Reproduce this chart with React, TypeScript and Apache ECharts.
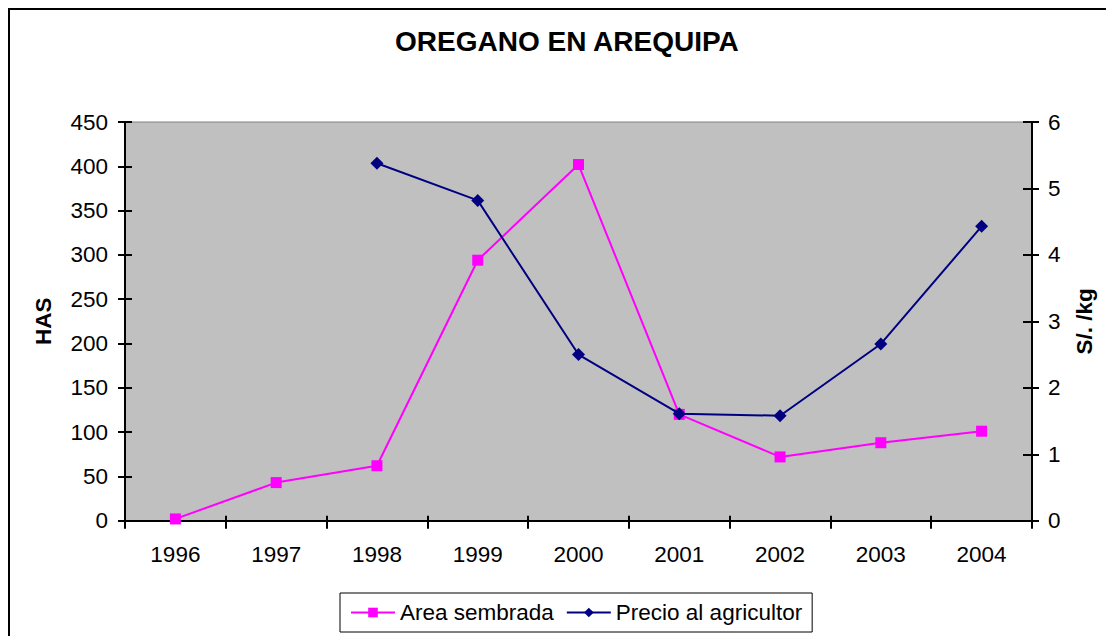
import React, { useEffect, useRef } from "react";
import * as echarts from "echarts";

const years = ["1996", "1997", "1998", "1999", "2000", "2001", "2002", "2003", "2004"];
const areaSembrada = [2, 43, 62, 294, 402, 120, 72, 88, 101];
const precioAgricultor = [null, null, 5.38, 4.82, 2.5, 1.61, 1.58, 2.66, 4.43];

const FONT = "'Liberation Sans', Arial, sans-serif";
const FS = 22.5;

export default function App() {
  const ref = useRef<HTMLDivElement>(null);
  useEffect(() => {
    if (!ref.current) return;
    const chart = echarts.init(ref.current, undefined, { renderer: "svg" });
    const tickStyle = { color: "#000", width: 2 };
    chart.setOption({
      animation: false,
      backgroundColor: "#fff",
      textStyle: { fontFamily: FONT },
      title: {
        text: "OREGANO EN AREQUIPA",
        left: 387,
        top: 19,
        padding: 0,
        textStyle: { fontFamily: FONT, fontSize: 28, fontWeight: "bold", color: "#000" },
      },
      graphic: [
        {
          type: "rect",
          shape: { x: 1, y: 1, width: 1300, height: 900 },
          style: { fill: "none", stroke: "#000", lineWidth: 2 },
          silent: true,
          z: 100,
        },
      ],
      legend: {
        left: 332,
        top: 585,
        padding: [8, 10, 8, 10],
        itemGap: 12,
        itemWidth: 44,
        itemHeight: 12,
        borderColor: "#000",
        borderWidth: 1,
        textStyle: { fontFamily: FONT, fontSize: FS, color: "#000" },
        data: ["Area sembrada", "Precio al agricultor"],
      },
      grid: {
        left: 117,
        top: 114,
        right: 82,
        bottom: 115.3,
        show: true,
        backgroundColor: "#c0c0c0",
        borderColor: "#808080",
        borderWidth: 1,
      },
      xAxis: [
        {
          type: "category",
          data: years,
          boundaryGap: true,
          axisLine: { lineStyle: { color: "#000", width: 2 } },
          axisTick: { show: true, length: 8, lineStyle: tickStyle, alignWithLabel: false },
          axisLabel: { fontFamily: FONT, fontSize: FS, color: "#000", margin: 22 },
          splitLine: { show: false },
        },
        {
          type: "category",
          data: years,
          position: "bottom",
          boundaryGap: true,
          axisLine: { show: false },
          axisTick: { show: true, inside: true, length: 5, lineStyle: tickStyle },
          axisLabel: { show: false },
          splitLine: { show: false },
        },
      ],
      yAxis: [
        {
          type: "value",
          min: 0,
          max: 450,
          interval: 50,
          position: "left",
          name: "HAS",
          nameLocation: "middle",
          nameGap: 70,
          nameTextStyle: { fontFamily: FONT, fontSize: FS, fontWeight: "bold", color: "#000" },
          axisLine: { show: true, lineStyle: { color: "#000", width: 2 } },
          axisTick: { show: true, length: 7, lineStyle: tickStyle },
          axisLabel: { fontFamily: FONT, fontSize: FS, color: "#000", margin: 17 },
          splitLine: { show: false },
        },
        {
          type: "value",
          min: 0,
          max: 6,
          interval: 1,
          position: "right",
          name: "S/. /kg",
          nameLocation: "middle",
          nameGap: 41,
          nameRotate: 90,
          nameTextStyle: { fontFamily: FONT, fontSize: FS, fontWeight: "bold", color: "#000" },
          axisLine: { show: true, lineStyle: { color: "#000", width: 2 } },
          axisTick: { show: true, length: 7, lineStyle: tickStyle },
          axisLabel: { fontFamily: FONT, fontSize: FS, color: "#000", margin: 16 },
          splitLine: { show: false },
        },
        {
          type: "value",
          min: 0,
          max: 450,
          interval: 50,
          position: "left",
          axisLine: { show: false },
          axisTick: { show: true, inside: true, length: 7, lineStyle: tickStyle },
          axisLabel: { show: false },
          splitLine: { show: false },
        },
        {
          type: "value",
          min: 0,
          max: 6,
          interval: 1,
          position: "right",
          axisLine: { show: false },
          axisTick: { show: true, inside: true, length: 9, lineStyle: tickStyle },
          axisLabel: { show: false },
          splitLine: { show: false },
        },
      ],
      series: [
        {
          name: "Area sembrada",
          type: "line",
          xAxisIndex: 0,
          yAxisIndex: 0,
          data: areaSembrada,
          symbol: "rect",
          symbolSize: 11,
          color: "#ff00ff",
          lineStyle: { color: "#ff00ff", width: 2 },
          itemStyle: { color: "#ff00ff" },
          z: 3,
        },
        {
          name: "Precio al agricultor",
          type: "line",
          xAxisIndex: 0,
          yAxisIndex: 1,
          data: precioAgricultor,
          symbol: "diamond",
          symbolSize: 13,
          color: "#000080",
          lineStyle: { color: "#000080", width: 2 },
          itemStyle: { color: "#000080" },
          connectNulls: false,
          z: 4,
        },
      ],
    });
    return () => chart.dispose();
  }, []);
  return <div ref={ref} style={{ width: 1106, height: 628 }} />;
}
